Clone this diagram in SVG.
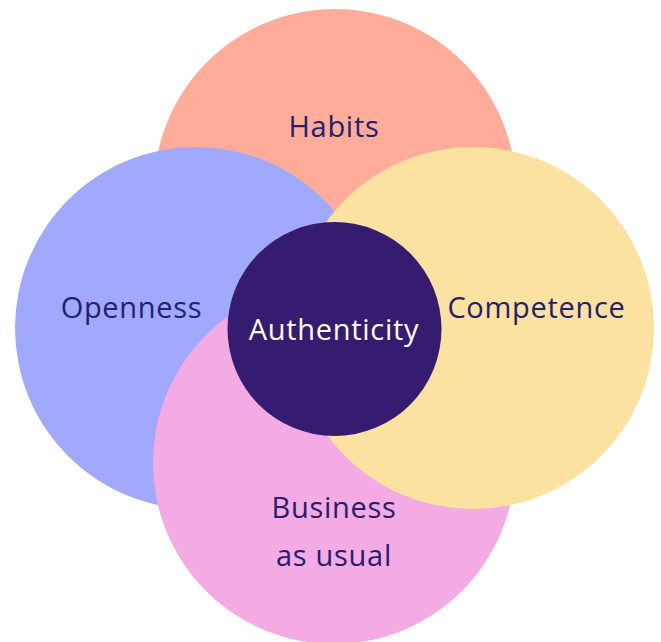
<svg xmlns="http://www.w3.org/2000/svg" width="661" height="642" viewBox="0 0 661 642">
  <style>
    .label { font-family: "Open Sans", "Liberation Sans", sans-serif; font-size: 29px; letter-spacing: 0.7px; fill: #24206B; text-anchor: middle; }
    .core { fill: #FFFFFF; }
  </style>
  <rect width="661" height="642" fill="#FFFFFF"/>
  <g id="habits">
    <circle cx="335" cy="190" r="181" fill="#FFAC9B"/>
    <text class="label" x="334" y="137">Habits</text>
  </g>
  <g id="openness">
    <circle cx="196" cy="328" r="181" fill="#A0A9FD"/>
    <text class="label" x="131.5" y="318">Openness</text>
  </g>
  <g id="business-as-usual">
    <circle cx="334" cy="463" r="181" fill="#F4AAE3"/>
    <text class="label" x="334" y="518">Business</text>
    <text class="label" x="334" y="566">as usual</text>
  </g>
  <g id="competence">
    <circle cx="473" cy="328" r="181" fill="#FBE2A0"/>
    <text class="label" x="536.5" y="318">Competence</text>
  </g>
  <g id="authenticity">
    <circle cx="334.5" cy="329" r="107" fill="#351C70"/>
    <text class="label core" x="334" y="340">Authenticity</text>
  </g>
  <g id="connectors"/>
</svg>
